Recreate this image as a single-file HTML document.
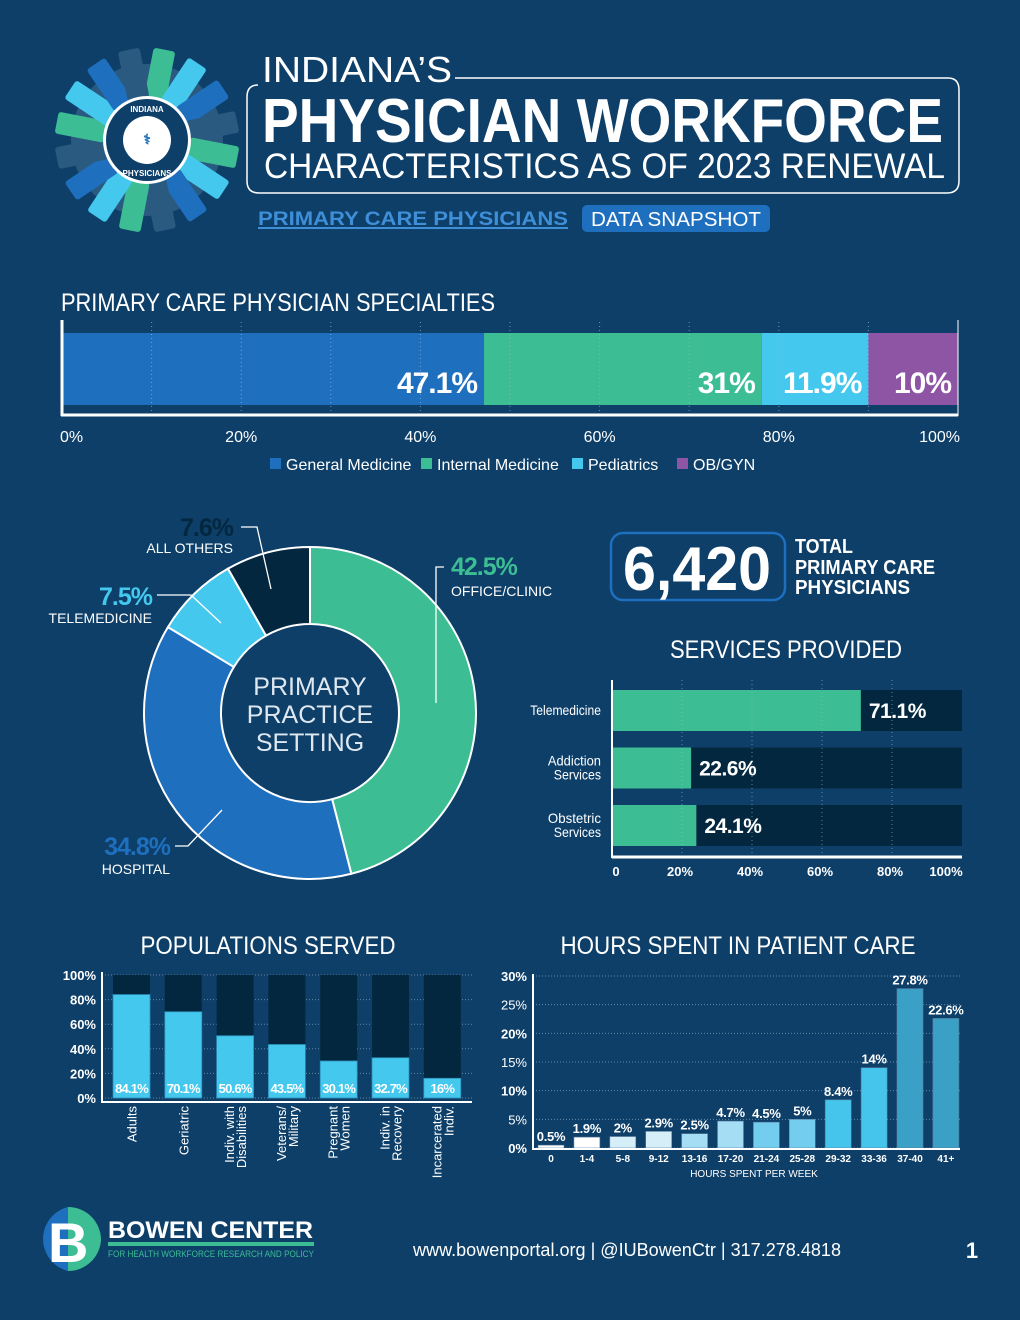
<!DOCTYPE html>
<html><head><meta charset="utf-8"><style>
html,body{margin:0;padding:0;background:#0d3f69;}
svg{display:block;font-family:"Liberation Sans",sans-serif;}
</style></head><body>
<svg id="root" width="1020" height="1320" viewBox="0 0 1020 1320">
<rect x="0" y="0" width="1020" height="1320" fill="#0d3f69"/>
<g id="logo"></g>
<g>
<text x="262" y="82" font-size="36" fill="#fff" textLength="190" lengthAdjust="spacingAndGlyphs">INDIANA’S</text>
<path d="M455 78 H948 Q959 78 959 90 V181 Q959 193 947 193 H259 Q247 193 247 181 V97 Q247 85 258 85" fill="none" stroke="#fff" stroke-width="1.5"/>
<text x="262" y="142" font-size="62" font-weight="bold" fill="#fff" textLength="681" lengthAdjust="spacingAndGlyphs">PHYSICIAN WORKFORCE</text>
<text x="264" y="178" font-size="35" fill="#fff" textLength="681" lengthAdjust="spacingAndGlyphs">CHARACTERISTICS AS OF 2023 RENEWAL</text>
<text x="258" y="225" font-size="19" font-weight="bold" fill="#3f8fd8" textLength="310" lengthAdjust="spacingAndGlyphs">PRIMARY CARE PHYSICIANS</text>
<line x1="258" y1="228" x2="568" y2="228" stroke="#3f8fd8" stroke-width="2"/>
<rect x="582" y="205" width="188" height="27" rx="5" fill="#1f6fbf"/>
<text x="676" y="226" font-size="20" fill="#fff" text-anchor="middle" textLength="170" lengthAdjust="spacingAndGlyphs">DATA SNAPSHOT</text>
</g>
<text x="61" y="311" font-size="25" fill="#fff" textLength="434" lengthAdjust="spacingAndGlyphs">PRIMARY CARE PHYSICIAN SPECIALTIES</text>
<g id="spec"></g>
<g id="donut"></g>
<g>
<rect x="611" y="533" width="174" height="67" rx="12" fill="none" stroke="#1f6fbf" stroke-width="2.5"/>
<text x="697" y="590" font-size="62" font-weight="bold" fill="#fff" text-anchor="middle" textLength="148" lengthAdjust="spacingAndGlyphs">6,420</text>
<text x="795" y="553" font-size="20" font-weight="bold" fill="#fff" textLength="58" lengthAdjust="spacingAndGlyphs">TOTAL</text>
<text x="795" y="574" font-size="20" font-weight="bold" fill="#fff" textLength="140" lengthAdjust="spacingAndGlyphs">PRIMARY CARE</text>
<text x="795" y="594" font-size="20" font-weight="bold" fill="#fff" textLength="115" lengthAdjust="spacingAndGlyphs">PHYSICIANS</text>
</g>
<text x="786" y="658" font-size="25" fill="#fff" text-anchor="middle" textLength="232" lengthAdjust="spacingAndGlyphs">SERVICES PROVIDED</text>
<g id="serv"></g>
<text x="268" y="954" font-size="25" fill="#fff" text-anchor="middle" textLength="255" lengthAdjust="spacingAndGlyphs">POPULATIONS SERVED</text>
<g id="pop"></g>
<text x="738" y="954" font-size="25" fill="#fff" text-anchor="middle" textLength="355" lengthAdjust="spacingAndGlyphs">HOURS SPENT IN PATIENT CARE</text>
<g id="hrs"></g>
<g>
<g>
<path d="M68 1207 A33 33 0 0 0 68 1271 Z" fill="#1f6fbf"/>
<path d="M68 1207 A33 33 0 0 1 101 1240 H68 Z" fill="#3dbd94"/>
<path d="M68 1240 H101 A33 33 0 0 1 68 1271 Z" fill="#3dbd94"/>
<text x="48" y="1262" font-size="56" font-weight="bold" fill="#fff">B</text>
</g>
<text x="108" y="1238" font-size="24" font-weight="bold" fill="#fff" textLength="205" lengthAdjust="spacingAndGlyphs">BOWEN CENTER</text>
<rect x="108" y="1242" width="206" height="4" fill="#3dbd94"/>
<text x="108" y="1257" font-size="9" fill="#3dbd94" textLength="206" lengthAdjust="spacingAndGlyphs">FOR HEALTH WORKFORCE RESEARCH AND POLICY</text>
<text x="627" y="1256" font-size="18" fill="#fff" text-anchor="middle" textLength="428" lengthAdjust="spacingAndGlyphs">www.bowenportal.org | @IUBowenCtr | 317.278.4818</text>
<text x="972" y="1258" font-size="22" font-weight="bold" fill="#fff" text-anchor="middle">1</text>
</g>
</svg>
<script>
const specNames=["General Medicine","Internal Medicine","Pediatrics","OB/GYN"];
const specValues=[47.1,31,11.9,10];
const specLabels=["47.1%","31%","11.9%","10%"];
const specTicks=[0,20,40,60,80,100];
const donutNames=["OFFICE/CLINIC","HOSPITAL","TELEMEDICINE","ALL OTHERS"];
const donutValues=[42.5,34.8,7.5,7.6];
const servNames=[["Telemedicine"],["Addiction","Services"],["Obstetric","Services"]];
const servValues=[71.1,22.6,24.1];
const servTicks=[0,20,40,60,80,100];
const popNames=[["Adults"],["Geriatric"],["Indiv. with","Disabilities"],["Veterans/","Military"],["Pregnant","Women"],["Indiv. in","Recovery"],["Incarcerated","Indiv."]];
const popValues=[84.1,70.1,50.6,43.5,30.1,32.7,16];
const popTicks=[0,20,40,60,80,100];
const hrsCats=["0","1-4","5-8","9-12","13-16","17-20","21-24","25-28","29-32","33-36","37-40","41+"];
const hrsValues=[0.5,1.9,2,2.9,2.5,4.7,4.5,5,8.4,14,27.8,22.6];
const hrsTicks=[0,5,10,15,20,25,30];

const NS="http://www.w3.org/2000/svg";
function mk(parent,tag,attrs,txt){const e=document.createElementNS(NS,tag);for(const k in attrs)e.setAttribute(k,attrs[k]);if(txt!==undefined)e.textContent=txt;parent.appendChild(e);return e;}
const G="#3dbd94",B="#1f6fbf",L="#45c8ee",P="#8e55a5",D="#042740";

// logo
(function(){const g=document.getElementById('logo');const cx=147,cy=140;
mk(g,'circle',{cx:cx,cy:cy,r:76,fill:'#2a5a80'});
const cols=[G,L,B,'#2a5a80'];
for(let i=0;i<16;i++){const a=i*22.5+11;const r=mk(g,'rect',{x:cx-11,y:cy-92,width:22,height:50,rx:3,fill:cols[i%4],transform:`rotate(${a} ${cx} ${cy})`});

}
mk(g,'circle',{cx:cx,cy:cy,r:44,fill:'#fff'});
mk(g,'circle',{cx:cx,cy:cy,r:41,fill:'#0d3f69'});
mk(g,'circle',{cx:cx,cy:cy,r:24,fill:'#fff'});
mk(g,'text',{x:cx,y:cy-28,'font-size':8,fill:'#fff','text-anchor':'middle','font-weight':'bold'},'INDIANA');
mk(g,'text',{x:cx,y:cy+36,'font-size':8,fill:'#fff','text-anchor':'middle','font-weight':'bold'},'PHYSICIANS');
mk(g,'text',{x:cx,y:cy+4,'font-size':14,fill:'#1f6fbf','text-anchor':'middle','font-weight':'bold'},'⚕');
})();

// specialties
(function(){const g=document.getElementById('spec');const x0=62,x1=958,y0=333,h=72;
const sx=v=>x0+(x1-x0)*v/100;const cols=[B,G,L,P];let acc=0;
specValues.forEach((v,i)=>{const r=mk(g,'rect',{x:sx(acc),y:y0,width:sx(acc+v)-sx(acc),height:h,fill:cols[i]});


const t=mk(g,'text',{x:sx(acc+v)-7,y:393,'font-size':30,'font-weight':'bold',fill:'#fff','text-anchor':'end','letter-spacing':'-1'},specLabels[i]);

acc+=v;});
for(let v=10;v<100;v+=10){mk(g,'line',{x1:sx(v),y1:322,x2:sx(v),y2:412,stroke:'#9fb6cc','stroke-width':1,'stroke-dasharray':'1 3',opacity:0.7});}
mk(g,'line',{x1:x0,y1:320,x2:x0,y2:416,stroke:'#fff','stroke-width':3});
mk(g,'line',{x1:x0-1,y1:415,x2:x1,y2:415,stroke:'#fff','stroke-width':3});
mk(g,'line',{x1:x1,y1:320,x2:x1,y2:416,stroke:'#fff','stroke-width':1});
specTicks.forEach((v,i)=>{const anchor=i==0?'start':(i==specTicks.length-1?'end':'middle');
const t=mk(g,'text',{x:i==0?x0-2:(i==specTicks.length-1?x1+2:sx(v)),y:442,'font-size':16,fill:'#fff','text-anchor':anchor},v+'%');

});
const lx=[270,421,572,677];
specNames.forEach((n,i)=>{mk(g,'rect',{x:lx[i],y:458,width:11,height:11,fill:cols[i]});
const t=mk(g,'text',{x:lx[i]+16,y:470,'font-size':16,fill:'#fff'},n);

});
})();

// donut
(function(){const g=document.getElementById('donut');const cx=310,cy=713,R=166,r=89;
const tot=donutValues.reduce((a,b)=>a+b,0);const cols=[G,B,L,D];let acc=0;
const pt=(a,rr)=>[cx+rr*Math.sin(a),cy-rr*Math.cos(a)];
donutValues.forEach((v,i)=>{const a0=acc/tot*2*Math.PI,a1=(acc+v)/tot*2*Math.PI;const lg=(a1-a0)>Math.PI?1:0;
const p0=pt(a0,R),p1=pt(a1,R),q1=pt(a1,r),q0=pt(a0,r);
const p=mk(g,'path',{d:`M${p0} A${R} ${R} 0 ${lg} 1 ${p1} L${q1} A${r} ${r} 0 ${lg} 0 ${q0} Z`,fill:cols[i],stroke:'#fff','stroke-width':2});


acc+=v;});
['PRIMARY','PRACTICE','SETTING'].forEach((s,i)=>mk(g,'text',{x:cx,y:695+i*28,'font-size':25,fill:'#dfe8f0','text-anchor':'middle'},s));
const lab=[{x:451,y:575,c:G,a:'start',sx:499,sy:596},{x:170,y:855,c:B,a:'end',sx:170,sy:874},{x:152,y:605,c:L,a:'end',sx:152,sy:623},{x:233,y:536,c:D,a:'end',sx:233,sy:553}];
lab.forEach((o,i)=>{const t=mk(g,'text',{x:o.x,y:o.y,'font-size':25,'font-weight':'bold',fill:o.c,'text-anchor':o.a,'letter-spacing':'-1'},donutValues[i]+'%');


const t2=mk(g,'text',{x:o.a=='start'?o.x:o.sx,y:o.sy,'font-size':14,fill:'#fff','text-anchor':o.a},donutNames[i]);

});
const ld=[[444,567,436,567,436,703],[175,846,188,846,222,810],[157,595,191,595,221,623],[241,527,257,527,271,589]];
ld.forEach(l=>mk(g,'polyline',{points:`${l[0]},${l[1]} ${l[2]},${l[3]} ${l[4]},${l[5]}`,fill:'none',stroke:'#fff','stroke-width':1.3}));
})();

// services
(function(){const g=document.getElementById('serv');const x0=612,x1=962;const sx=v=>x0+(x1-x0)*v/100;
servValues.forEach((v,i)=>{const y=690+i*57.5;
mk(g,'rect',{x:x0,y:y,width:x1-x0,height:41,fill:D});
const b=mk(g,'rect',{x:x0,y:y,width:sx(v)-x0,height:41,fill:G});


const t=mk(g,'text',{x:sx(v)+8,y:y+28,'font-size':21,'font-weight':'bold',fill:'#fff','letter-spacing':'-0.5'},v+'%');


const n=servNames[i];n.forEach((s,j)=>{const tt=mk(g,'text',{x:601,y:y+25-(n.length-1)*7+j*14,'font-size':14,fill:'#fff','text-anchor':'end',textLength:s.length*5.9,lengthAdjust:'spacingAndGlyphs'},s);

});});
for(let v=20;v<100;v+=20)mk(g,'line',{x1:sx(v),y1:680,x2:sx(v),y2:855,stroke:'#9fb6cc','stroke-dasharray':'1 3',opacity:0.6});
mk(g,'line',{x1:x0,y1:680,x2:x0,y2:858,stroke:'#fff','stroke-width':2});
mk(g,'line',{x1:x0,y1:857,x2:x1,y2:857,stroke:'#fff','stroke-width':3});
servTicks.forEach((v,i)=>{const t=mk(g,'text',{x:i==0?616:(i==servTicks.length-1?946:sx(v)-2),y:876,'font-size':13,'font-weight':'bold',fill:'#fff','text-anchor':'middle'},v==0?'0':v+'%');

});
})();

// populations
(function(){const g=document.getElementById('pop');const yb=1098,yt=975;const sy=v=>yb-(yb-yt)*v/100;
popTicks.forEach(v=>{mk(g,'line',{x1:102,y1:sy(v),x2:472,y2:sy(v),stroke:'#9fb6cc','stroke-dasharray':'1 2',opacity:0.6});
const t=mk(g,'text',{x:96,y:sy(v)+5,'font-size':13,'font-weight':'bold',fill:'#fff','text-anchor':'end'},v+'%');

});
popValues.forEach((v,i)=>{const x=113+i*51.8;
mk(g,'rect',{x:x,y:yt,width:37,height:yb-yt,fill:D});
const b=mk(g,'rect',{x:x,y:sy(v),width:37,height:yb-sy(v),fill:'#45c8ee',stroke:'#2b8fb8','stroke-width':0.8});


const t=mk(g,'text',{x:x+18.5,y:1093,'font-size':13,'font-weight':'bold',fill:'#fff','text-anchor':'middle','letter-spacing':'-0.8'},v+'%');


const n=popNames[i];n.forEach((s,j)=>{const tx=x+18.5+5-(n.length-1)*6+j*12;const tt=mk(g,'text',{x:tx,y:1106,'font-size':13,fill:'#fff','text-anchor':'end',transform:`rotate(-90 ${tx} 1106)`},s);

});});
mk(g,'line',{x1:102,y1:972,x2:102,y2:1103,stroke:'#fff','stroke-width':2});
mk(g,'line',{x1:101,y1:1102,x2:472,y2:1102,stroke:'#fff','stroke-width':2});
})();

// hours
(function(){const g=document.getElementById('hrs');const yb=1148,yt=976;const sy=v=>yb-(yb-yt)*v/30;
const cols=['#fff','#fff','#d6eef8','#d6eef8','#a5ddf4','#a5ddf4','#73cdef','#73cdef','#45c5ec','#45c5ec','#3aa0c5','#3aa0c5'];
hrsTicks.forEach(v=>{mk(g,'line',{x1:533,y1:sy(v),x2:960,y2:sy(v),stroke:'#9fb6cc','stroke-dasharray':'1 2',opacity:0.6});
const t=mk(g,'text',{x:527,y:sy(v)+5,'font-size':13,fill:'#fff','text-anchor':'end','font-weight':v%10==0?'bold':'normal'},v+'%');

});
hrsValues.forEach((v,i)=>{const x=538+i*35.9;
const b=mk(g,'rect',{x:x,y:sy(v),width:26,height:yb-sy(v),fill:cols[i],stroke:'#5a7fa0','stroke-width':0.6});


const t=mk(g,'text',{x:x+13,y:sy(v)-4,'font-size':13,'font-weight':'bold',fill:'#fff','text-anchor':'middle','letter-spacing':'-0.3'},v+'%');


const c=mk(g,'text',{x:x+13,y:1162,'font-size':10,'font-weight':'bold',fill:'#fff','text-anchor':'middle'},hrsCats[i]);

});
mk(g,'line',{x1:533,y1:974,x2:533,y2:1150,stroke:'#fff','stroke-width':2});
mk(g,'line',{x1:532,y1:1149,x2:960,y2:1149,stroke:'#fff','stroke-width':2});
const xt=mk(g,'text',{x:754,y:1177,'font-size':10,fill:'#fff','text-anchor':'middle'},'HOURS SPENT PER WEEK');


})();
</script>
</body></html>
